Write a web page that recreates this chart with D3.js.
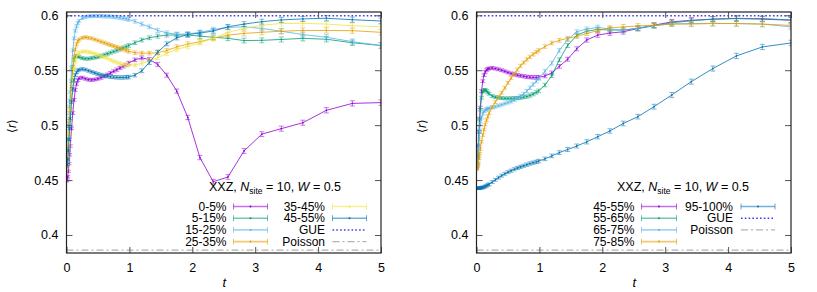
<!DOCTYPE html>
<html><head><meta charset="utf-8">
<script src="https://cdn.jsdelivr.net/npm/d3@7"></script>
<style>
body{margin:0;background:#fff}
text{font-family:"Liberation Sans",Arial,sans-serif;fill:#000}
</style>
</head><body>
<svg id="c" width="817" height="292"></svg>
<script>
// ---- data ----
const t = [0,0.01,0.02,0.03,0.04,0.05,0.06,
 0.08,0.1,0.12,0.14,0.16,0.18,0.2,
 0.25,0.3,0.35,0.4,0.45,0.5,
 0.55,0.6,0.65,0.7,0.75,0.8,
 0.85,0.9,0.95,0.989,
 1.088,1.197,1.317,1.449,1.594,1.753,1.928,
 2.121,2.333,2.566,2.822,
 3.105,3.415,3.757,
 4.132,4.545,5.0];

const errs = [0.0008,0.0009,0.001,0.001,0.0011,0.0011,0.0011,
 0.0012,0.0012,0.0012,0.0012,0.0012,0.0012,0.0012,
 0.0013,0.0013,0.0013,0.0013,0.0013,0.0013,
 0.0014,0.0014,0.0014,0.0014,0.0014,0.0015,
 0.0015,0.0015,0.0015,0.0016,
 0.0016,0.0017,0.0017,0.0018,0.0018,0.0019,0.002,
 0.002,0.0021,0.0021,0.0022,
 0.0022,0.0023,0.0023,
 0.0024,0.0024,0.0025];

// left panel
const s0_5 = [0.449,0.45,0.453,0.458,0.465,0.473,0.481,
 0.497,0.511,0.523,0.532,0.5375,0.541,0.5428,
 0.5432,0.5422,0.5414,0.5412,0.5415,0.5422,
 0.5432,0.5445,0.546,0.5475,0.549,0.5505,
 0.552,0.5535,0.5548,0.5565,
 0.5595,0.5612,0.5598,0.5553,0.5455,0.531,0.507,
 0.4705,0.4485,0.4528,0.4765,
 0.4918,0.4968,0.5022,
 0.5135,0.5198,0.5205];
const s5_15 = [0.465,0.468,0.476,0.487,0.499,0.511,0.522,
 0.54,0.553,0.5595,0.5625,0.563,0.5625,0.562,
 0.561,0.5605,0.5605,0.561,0.5615,0.562,
 0.563,0.564,0.565,0.566,0.567,0.568,
 0.569,0.5705,0.5715,0.5725,
 0.575,0.5775,0.5795,0.581,0.582,0.5822,0.582,
 0.581,0.58,0.579,0.577,
 0.5772,0.578,0.579,
 0.5782,0.575,0.5725];
const s15_25 = [0.465,0.468,0.476,0.488,0.502,0.517,0.53,
 0.552,0.568,0.579,0.586,0.59,0.593,0.595,
 0.5975,0.5985,0.599,0.5992,0.5993,0.5993,
 0.5992,0.5991,0.599,0.5988,0.5985,0.5982,
 0.5978,0.5973,0.5968,0.5962,
 0.5945,0.592,0.5895,0.5862,0.584,0.5828,0.583,
 0.5845,0.587,0.589,0.5895,
 0.588,0.5855,0.5825,
 0.58,0.576,0.5725];
const s25_35 = [0.46,0.463,0.47,0.48,0.492,0.504,0.515,
 0.535,0.551,0.562,0.569,0.5735,0.5765,0.578,
 0.5795,0.58,0.5795,0.579,0.578,0.577,
 0.576,0.575,0.574,0.573,0.572,0.571,
 0.57,0.569,0.568,0.5672,
 0.566,0.5655,0.5655,0.566,0.568,0.5712,0.5738,
 0.576,0.579,0.582,0.5835,
 0.5845,0.5855,0.5862,
 0.5862,0.586,0.5845];
const s35_45 = [0.462,0.465,0.472,0.482,0.493,0.504,0.514,
 0.53,0.543,0.552,0.558,0.562,0.5645,0.566,
 0.567,0.567,0.5665,0.566,0.565,0.564,
 0.563,0.562,0.561,0.5595,0.558,0.557,
 0.556,0.5553,0.5548,0.5546,
 0.5548,0.5562,0.5585,0.5615,0.5652,0.569,0.5715,
 0.5748,0.579,0.5845,0.588,
 0.591,0.5925,0.5927,
 0.592,0.5905,0.5895];
const s45_55 = [0.462,0.464,0.469,0.477,0.487,0.497,0.506,
 0.521,0.533,0.541,0.5455,0.548,0.5497,0.5505,
 0.551,0.5505,0.5495,0.5485,0.5475,0.5465,
 0.5458,0.545,0.5445,0.544,0.5437,0.5435,
 0.5434,0.5434,0.5436,0.5438,
 0.5455,0.5495,0.557,0.5665,0.574,0.5795,0.5825,
 0.5838,0.5857,0.5895,0.592,
 0.5942,0.5958,0.5967,
 0.5973,0.596,0.5948];

// right panel
const r45_55 = [0.46,0.463,0.47,0.481,0.494,0.506,0.516,
 0.531,0.54,0.5455,0.5485,0.5502,0.5512,0.5517,
 0.552,0.5515,0.5508,0.55,0.549,0.548,
 0.547,0.5462,0.5455,0.545,0.5445,0.544,
 0.5437,0.5435,0.5435,0.5436,
 0.5447,0.5475,0.5535,0.56,0.5695,0.5775,0.582,
 0.5838,0.585,0.588,0.591,
 0.594,0.5955,0.5965,
 0.597,0.5965,0.5955];
const r55_65 = [0.462,0.465,0.472,0.482,0.494,0.505,0.514,
 0.525,0.5305,0.532,0.532,0.5312,0.5298,0.5285,
 0.5265,0.5255,0.525,0.5246,0.5244,0.5244,
 0.5244,0.5245,0.5247,0.525,0.5255,0.526,
 0.527,0.5282,0.5298,0.5312,
 0.5365,0.545,0.5595,0.5725,0.582,0.5855,0.5872,
 0.5866,0.5865,0.588,0.5905,
 0.5932,0.595,0.5965,
 0.5972,0.597,0.5958];
const r65_75 = [0.462,0.464,0.47,0.478,0.487,0.495,0.501,
 0.507,0.5105,0.5125,0.5138,0.5145,0.515,0.5153,
 0.516,0.5168,0.5177,0.5186,0.5196,0.5205,
 0.5215,0.523,0.5245,0.5265,0.5285,0.531,
 0.534,0.537,0.54,0.5425,
 0.549,0.5565,0.568,0.578,0.585,0.5875,0.589,
 0.5875,0.5865,0.5885,0.5905,
 0.5922,0.5925,0.5927,
 0.5925,0.592,0.5895];
const r75_85 = [0.46,0.461,0.463,0.466,0.47,0.474,0.478,
 0.485,0.491,0.496,0.5005,0.5045,0.508,0.511,
 0.5165,0.521,0.5255,0.5295,0.534,0.5385,
 0.5428,0.5468,0.5505,0.554,0.557,0.5598,
 0.5622,0.5645,0.5665,0.568,
 0.5715,0.5748,0.5772,0.579,0.5808,0.5835,0.586,
 0.5885,0.5895,0.5903,0.591,
 0.592,0.592,0.5925,
 0.5925,0.592,0.5908];
const r95_100 = [0.4425,0.4425,0.4425,0.4425,0.4426,0.4427,0.4428,
 0.443,0.4433,0.4437,0.4442,0.4448,0.4455,0.4462,
 0.4482,0.4502,0.4522,0.454,0.4557,0.4572,
 0.4585,0.4598,0.461,0.462,0.463,0.464,
 0.465,0.4658,0.4666,0.4673,
 0.4693,0.472,0.475,0.4778,0.481,0.4848,0.4895,
 0.4947,0.5015,0.5077,0.5168,
 0.5275,0.5396,0.5515,
 0.563,0.5712,0.5748];

const gueValue = 0.5996;
const poissonValue = 0.3863;
const xTicks = [0,1,2,3,4,5];
const yTicks = [0.4,0.45,0.5,0.55,0.6];
const leftLabels = ["0-5%","5-15%","15-25%","25-35%","35-45%","45-55%"];
const rightLabels = ["45-55%","55-65%","65-75%","75-85%","95-100%"];

// ---- styles ----
const C = {purple:"#9400d3", green:"#009e73", lblue:"#56b4e9", orange:"#e69f00", yellow:"#f0e442", dblue:"#0072b2"};

const panels = [
  {x0:66.5, x1:381, ylabX:12, series:[
     {v:s0_5,c:C.purple},{v:s5_15,c:C.green},{v:s15_25,c:C.lblue},
     {v:s25_35,c:C.orange},{v:s35_45,c:C.yellow},{v:s45_55,c:C.dblue}],
   labels:leftLabels, titleX:275,
   col1:{lx:226.5, sx0:233.5, sx1:267.5, n:4}, col2:{lx:325, sx0:332.5, sx1:366.5}},
  {x0:476.5, x1:791, ylabX:422, series:[
     {v:r45_55,c:C.purple},{v:r55_65,c:C.green},{v:r65_75,c:C.lblue},
     {v:r75_85,c:C.orange},{v:r95_100,c:C.dblue}],
   labels:rightLabels, titleX:683,
   col1:{lx:634.5, sx0:641.5, sx1:676.5, n:4}, col2:{lx:733, sx0:741, sx1:775}}
];

const svg = d3.select("#c");
svg.append("rect").attr("width",817).attr("height",292).attr("fill","#fff");
const yTop = 12, yBot = 253;
const rowY = [206.5,218.2,229.9,241.6];

panels.forEach(p => {
  const x = d3.scaleLinear().domain([0,5]).range([p.x0,p.x1]);
  const y = d3.scaleLinear().domain([0.3836,0.603]).range([yBot,yTop]);
  const g = svg.append("g");
  const clipId = "clip"+Math.round(p.x0);
  g.append("clipPath").attr("id",clipId).append("rect")
    .attr("x",p.x0).attr("y",yTop).attr("width",p.x1-p.x0).attr("height",yBot-yTop);
  const plot = g.append("g").attr("clip-path",`url(#${clipId})`);

  // series
  p.series.forEach(s => {
    const pts = t.map((tt,i)=>({t:tt,v:s.v[i],e:errs[i]}));
    const sg = plot.append("g");
    sg.append("path").datum(pts)
      .attr("d", d3.line().x(d=>x(d.t)).y(d=>y(d.v)))
      .attr("fill","none").attr("stroke",s.c).attr("stroke-width",1).attr("stroke-opacity",0.8);
    const eb = sg.append("g").attr("stroke",s.c).attr("stroke-width",1).attr("stroke-opacity",0.5).attr("fill","none");
    pts.forEach(d => {
      const xx = x(d.t), y1 = y(d.v-d.e), y2 = y(d.v+d.e);
      eb.append("path").attr("d",`M${xx},${y1}V${y2}M${xx-2.5},${y1}H${xx+2.5}M${xx-2.5},${y2}H${xx+2.5}`);
    });
    sg.selectAll("circle").data(pts).join("circle")
      .attr("cx",d=>x(d.t)).attr("cy",d=>y(d.v)).attr("r",0.9)
      .attr("fill",s.c).attr("fill-opacity",0.9);
  });

  // reference lines
  plot.append("line").attr("x1",p.x0).attr("x2",p.x1).attr("y1",y(gueValue)).attr("y2",y(gueValue))
    .attr("stroke","#3c3cff").attr("stroke-width",1.5).attr("stroke-dasharray","1.6,2.2");
  plot.append("line").attr("x1",p.x0).attr("x2",p.x1).attr("y1",y(poissonValue)).attr("y2",y(poissonValue))
    .attr("stroke","#b4b4b4").attr("stroke-width",1.2).attr("stroke-dasharray","7,3,2,3");

  // axes
  const fmt = d=>String(d);
  const ax = g.append("g").attr("font-size",12);
  ax.append("g").attr("transform",`translate(${p.x0},0)`)
    .call(d3.axisLeft(y).tickValues(yTicks).tickSize(-6).tickPadding(8).tickFormat(fmt));
  ax.append("g").attr("transform",`translate(${p.x1},0)`)
    .call(d3.axisRight(y).tickValues(yTicks).tickSize(-6).tickFormat(""));
  ax.append("g").attr("transform",`translate(0,${yBot})`)
    .call(d3.axisBottom(x).tickValues(xTicks).tickSize(-6).tickPadding(10).tickFormat(fmt));
  ax.append("g").attr("transform",`translate(0,${yTop})`)
    .call(d3.axisTop(x).tickValues(xTicks).tickSize(-6).tickFormat(""));
  ax.selectAll(".domain").remove();
  ax.selectAll(".tick line").attr("stroke","#555").attr("stroke-width",1);
  ax.selectAll("text").attr("font-family","Liberation Sans, Arial, sans-serif").attr("font-size",12.5);
  g.append("rect").attr("x",p.x0).attr("y",yTop).attr("width",p.x1-p.x0).attr("height",yBot-yTop)
    .attr("fill","none").attr("stroke","#222").attr("stroke-width",1.2);

  // axis labels
  g.append("text").attr("x",(p.x0+p.x1)/2+0.5).attr("y",287).attr("text-anchor","middle")
    .attr("font-size",13).attr("font-style","italic").text("t");
  const yl = g.append("text").attr("transform",`translate(${p.ylabX+4},${126}) rotate(-90)`)
    .attr("text-anchor","middle").attr("font-size",12);
  yl.append("tspan").text("\u27E8");
  yl.append("tspan").attr("font-style","italic").text("r");
  yl.append("tspan").text("\u27E9");

  // legend title
  const tt = g.append("text").attr("x",p.titleX).attr("y",191).attr("text-anchor","middle").attr("font-size",12.5);
  tt.append("tspan").text("XXZ, ");
  tt.append("tspan").attr("font-style","italic").text("N");
  tt.append("tspan").attr("font-size",8.5).attr("dy",3).text("site");
  tt.append("tspan").attr("dy",-3).text(" = 10, ");
  tt.append("tspan").attr("font-style","italic").text("W");
  tt.append("tspan").text(" = 0.5");

  // legend entries
  const entries = p.series.map((s,i)=>({type:"s",c:s.c,label:p.labels[i]}));
  entries.push({type:"gue",label:"GUE"});
  entries.push({type:"poi",label:"Poisson"});
  entries.forEach((e,i) => {
    const col = i < p.col1.n ? p.col1 : p.col2;
    const row = i < p.col1.n ? i : i - p.col1.n;
    const yy = rowY[row];
    g.append("text").attr("x",col.lx).attr("y",yy+4.2).attr("text-anchor","end").attr("font-size",12).text(e.label);
    if (e.type === "s") {
      const lg = g.append("g").attr("stroke",e.c).attr("fill","none");
      lg.append("path").attr("d",`M${col.sx0},${yy}H${col.sx1}`).attr("stroke-width",1.6).attr("stroke-opacity",0.55);
      lg.append("path").attr("d",`M${col.sx0},${yy-3}V${yy+3}M${col.sx1},${yy-3}V${yy+3}`).attr("stroke-width",1).attr("stroke-opacity",0.6);
      g.append("circle").attr("cx",(col.sx0+col.sx1)/2).attr("cy",yy).attr("r",1).attr("fill",e.c);
    } else if (e.type === "gue") {
      g.append("line").attr("x1",col.sx0).attr("x2",col.sx1).attr("y1",yy).attr("y2",yy)
        .attr("stroke","#3c3cff").attr("stroke-width",1.5).attr("stroke-dasharray","1.6,2.2");
    } else {
      g.append("line").attr("x1",col.sx0).attr("x2",col.sx1).attr("y1",yy).attr("y2",yy)
        .attr("stroke","#b4b4b4").attr("stroke-width",1.2).attr("stroke-dasharray","7,3,2,3");
    }
  });
});
</script>
</body></html>
